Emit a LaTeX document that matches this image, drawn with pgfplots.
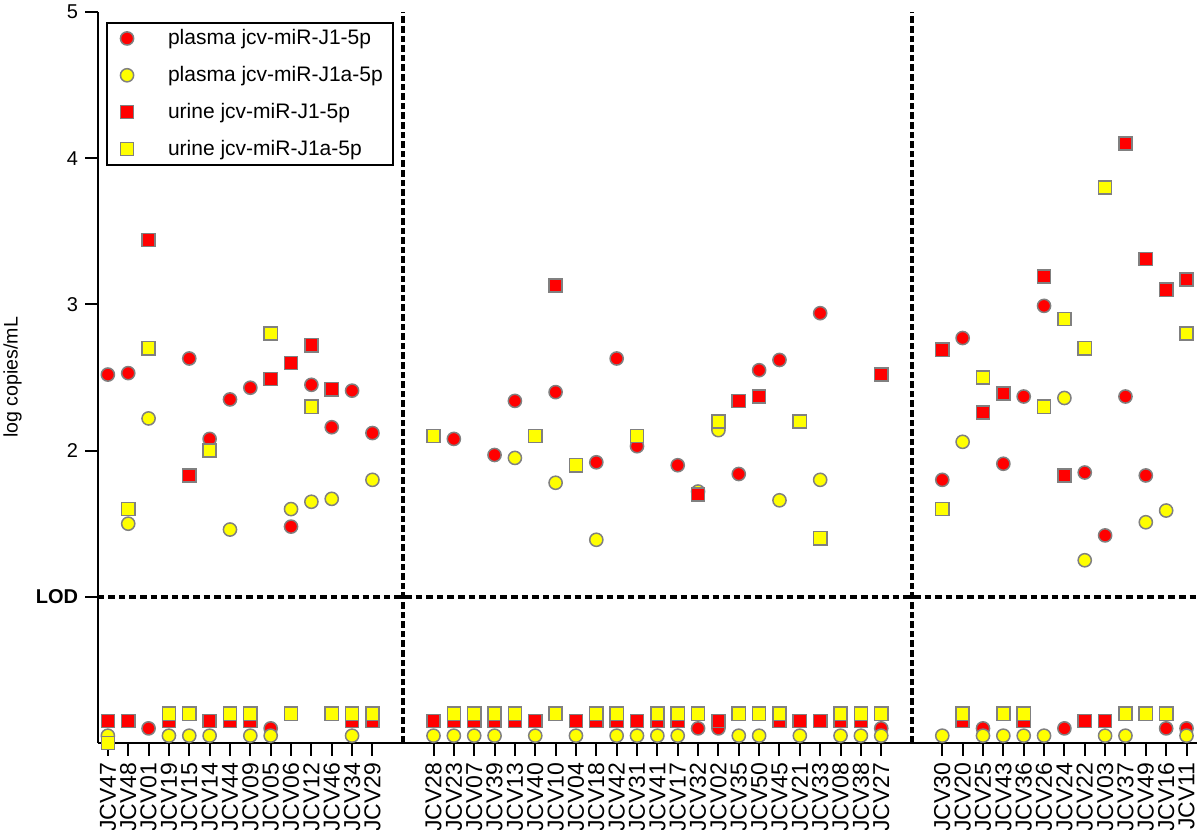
\documentclass[border=0pt]{standalone}
\usepackage{fontspec}
\setmainfont{Liberation Sans}
\usepackage{pgfplots}
\pgfplotsset{compat=1.18}
\definecolor{mkred}{RGB}{255,0,0}
\definecolor{mkyel}{RGB}{255,255,0}
\definecolor{mkedge}{RGB}{128,128,128}
\begin{document}
\begin{tikzpicture}
\begin{axis}[
  scale only axis, width=549.5pt, height=365.5pt,
  xmin=-0.5, xmax=53.5, ymin=0, ymax=5,
  axis x line*=bottom, axis y line*=left,
  axis line style={line width=1pt, -},
  tick align=outside, major tick length=6.3pt,
  tick style={line width=1pt, black},
  xtick={0,...,13,16,17,...,38,41,42,...,53},
  xticklabels={JCV47,JCV48,JCV01,JCV19,JCV15,JCV14,JCV44,JCV09,JCV05,JCV06,JCV12,JCV46,JCV34,JCV29,
    JCV28,JCV23,JCV07,JCV39,JCV13,JCV40,JCV10,JCV04,JCV18,JCV42,JCV31,JCV41,JCV17,JCV32,JCV02,JCV35,JCV50,JCV45,JCV21,JCV33,JCV08,JCV38,JCV27,
    JCV30,JCV20,JCV25,JCV43,JCV36,JCV26,JCV24,JCV22,JCV03,JCV37,JCV49,JCV16,JCV11},
  xticklabel style={rotate=90, anchor=east, font=\fontsize{11.5}{13}\selectfont},
  ytick={1,2,3,4,5},
  yticklabels={\textbf{LOD},2,3,4,5},
  yticklabel style={font=\fontsize{10}{12}\selectfont},
  ylabel={log copies/mL},
  ylabel style={at={(axis description cs:-0.0689,0.5)}, anchor=south, inner sep=0pt, font=\fontsize{9.8}{11}\selectfont},
  clip=false,
  legend style={at={(axis description cs:0.0076,0.9867)}, anchor=north west, draw=black, line width=1pt,
    font=\fontsize{10.5}{12.6}\selectfont, row sep=5.3pt, inner xsep=3pt, inner ysep=1.3pt, cells={anchor=west}},
  legend image code/.code={\draw[#1, mark repeat=1] plot coordinates {(0pt,0pt)}; \path[draw=none,fill=none] (-7pt,-5pt) rectangle (18.5pt,5pt);},
]
\coordinate (bl) at (rel axis cs:0,0);
\draw[line width=1.8pt, dash pattern=on 3.3pt off 1.5pt] (axis cs:14.5,0) -- (axis cs:14.5,5);
\draw[line width=1.8pt, dash pattern=on 3.3pt off 1.5pt] (axis cs:39.5,0) -- (axis cs:39.5,5);
\draw[line width=1.8pt, dash pattern=on 3.3pt off 2pt] (axis cs:-0.5,1) -- (axis cs:53.5,1);

% plasma jcv-miR-J1-5p (red circles)
\addplot[only marks, mark=*, mark size=3.3pt, mark options={fill=mkred, draw=mkedge, line width=0.75pt}] coordinates {
 (0,2.52) (1,2.53) (2,0.1) (4,2.63) (5,2.08) (6,2.35) (7,2.43) (8,0.1) (9,1.48) (10,2.45) (11,2.16) (12,2.41) (13,2.12)
 (17,2.08) (19,1.97) (20,2.34) (22,2.40) (24,1.92) (25,2.63) (26,2.03) (28,1.90) (29,0.1) (30,0.1) (31,1.84) (32,2.55) (33,2.62) (35,2.94) (38,0.1)
 (41,1.80) (42,2.77) (43,0.1) (44,1.91) (45,2.37) (46,2.99) (47,0.1) (48,1.85) (49,1.42) (50,2.37) (51,1.83) (52,0.1) (53,0.1)
};
\addlegendentry{plasma jcv-miR-J1-5p}

% plasma jcv-miR-J1a-5p (yellow circles)
\addplot[only marks, mark=*, mark size=3.3pt, mark options={fill=mkyel, draw=mkedge, line width=0.75pt}] coordinates {
 (0,0.05) (1,1.50) (2,2.22) (3,0.05) (4,0.05) (5,0.05) (6,1.46) (7,0.05) (8,0.05) (9,1.60) (10,1.65) (11,1.67) (12,0.05) (13,1.80)
 (16,0.05) (17,0.05) (18,0.05) (19,0.05) (20,1.95) (21,0.05) (22,1.78) (23,0.05) (24,1.39) (25,0.05) (26,0.05) (27,0.05) (28,0.05) (29,1.72) (30,2.14) (31,0.05) (32,0.05) (33,1.66) (34,0.05) (35,1.80) (36,0.05) (37,0.05) (38,0.05)
 (41,0.05) (42,2.06) (43,0.05) (44,0.05) (45,0.05) (46,0.05) (47,2.36) (48,1.25) (49,0.05) (50,0.05) (51,1.51) (52,1.59) (53,0.05)
};
\addlegendentry{plasma jcv-miR-J1a-5p}

% urine jcv-miR-J1-5p (red squares)
\addplot[only marks, mark=square*, mark size=3.3pt, mark options={fill=mkred, draw=mkedge, line width=0.75pt}] coordinates {
 (0,0.15) (1,0.15) (2,3.44) (3,0.15) (4,1.83) (5,0.15) (6,0.15) (7,0.15) (8,2.49) (9,2.60) (10,2.72) (11,2.42) (12,0.15) (13,0.15)
 (16,0.15) (17,0.15) (18,0.15) (19,0.15) (20,0.15) (21,0.15) (22,3.13) (23,0.15) (24,0.15) (25,0.15) (26,0.15) (27,0.15) (28,0.15) (29,1.70) (30,0.15) (31,2.34) (32,2.37) (33,0.15) (34,0.15) (35,0.15) (36,0.15) (37,0.15) (38,2.52)
 (41,2.69) (42,0.15) (43,2.26) (44,2.39) (45,0.15) (46,3.19) (47,1.83) (48,0.15) (49,0.15) (50,4.10) (51,3.31) (52,3.10) (53,3.17)
};
\addlegendentry{urine jcv-miR-J1-5p}

% urine jcv-miR-J1a-5p (yellow squares)
\addplot[only marks, mark=square*, mark size=3.3pt, mark options={fill=mkyel, draw=mkedge, line width=0.75pt}] coordinates {
 (0,0.0) (1,1.60) (2,2.70) (3,0.2) (4,0.2) (5,2.00) (6,0.2) (7,0.2) (8,2.80) (9,0.2) (10,2.30) (11,0.2) (12,0.2) (13,0.2)
 (16,2.10) (17,0.2) (18,0.2) (19,0.2) (20,0.2) (21,2.10) (22,0.2) (23,1.90) (24,0.2) (25,0.2) (26,2.10) (27,0.2) (28,0.2) (29,0.2) (30,2.20) (31,0.2) (32,0.2) (33,0.2) (34,2.20) (35,1.40) (36,0.2) (37,0.2) (38,0.2)
 (41,1.60) (42,0.2) (43,2.50) (44,0.2) (45,0.2) (46,2.30) (47,2.90) (48,2.70) (49,3.80) (50,0.2) (51,0.2) (52,0.2) (53,2.80)
};
\addlegendentry{urine jcv-miR-J1a-5p}
\end{axis}
\pgfresetboundingbox
\path[use as bounding box] (bl) ++(-48.85pt,-43.5pt) rectangle ++(600pt,415pt);
\end{tikzpicture}
\end{document}
